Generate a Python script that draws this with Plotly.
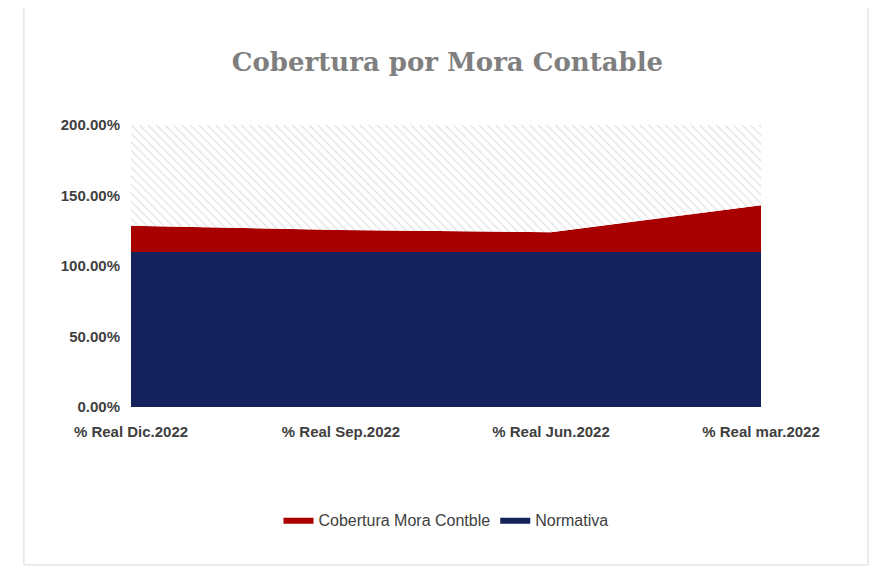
import plotly.graph_objects as go

categorias = ["% Real Dic.2022", "% Real Sep.2022", "% Real Jun.2022", "% Real mar.2022"]
normativa = [110, 110, 110, 110]
cobertura = [128.5, 125.5, 124, 143]
tope = [200, 200, 200, 200]
x = list(range(len(categorias)))

fig = go.Figure()
fig.add_trace(go.Scatter(x=x, y=normativa, name="Normativa", mode="lines",
                         line=dict(width=0), fill="tozeroy", fillcolor="#14215a"))
fig.add_trace(go.Scatter(x=x, y=cobertura, name="Cobertura Mora Contble", mode="lines",
                         line=dict(width=0), fill="tonexty", fillcolor="#a80000"))
fig.add_trace(go.Scatter(x=x, y=tope, name="", mode="lines", showlegend=False,
                         line=dict(width=0), fill="tonexty", fillcolor="rgba(255,255,255,0)",
                         fillpattern=dict(shape="\\", fgcolor="#b8b8b8", bgcolor="white",
                                          size=6, solidity=0.18),
                         hoverinfo="skip"))

tick_font = dict(family="Liberation Sans", size=15, color="#404040")
fig.update_layout(
    width=879, height=566,
    margin=dict(l=123, r=126, t=117, b=167),
    paper_bgcolor="white", plot_bgcolor="white",
    title=dict(text="<b>Cobertura por Mora Contable</b>", x=0.5, xanchor="center",
               y=0.905, yanchor="middle",
               font=dict(family="DejaVu Serif", size=26, color="#7f7f7f")),
    xaxis=dict(tickvals=x, ticktext=["<b>%s</b>" % c for c in categorias], range=[0, 3],
               showgrid=True, gridcolor="#d9d9d9", zeroline=False, ticks="",
               ticklabelstandoff=14, tickfont=tick_font),
    yaxis=dict(range=[0, 200], tickvals=[0, 50, 100, 150, 200],
               ticktext=["<b>%.2f%%</b>" % v for v in [0, 50, 100, 150, 200]],
               showgrid=True, gridcolor="#d9d9d9", zeroline=False, ticks="",
               ticklabelstandoff=10, tickfont=tick_font, layer="above traces"),
    legend=dict(orientation="h", x=0.5, xanchor="center", y=-0.4, yanchor="middle",
                traceorder="reversed",
                font=dict(family="Liberation Sans", size=16, color="#404040")),
    shapes=[dict(type="path", xref="paper", yref="paper", layer="above",
                 path="M -0.17,1.42 L 1.17,1.42 L 1.17,-0.56 L -0.17,-0.56 Z",
                 line=dict(color="#d9d9d9", width=1))],
)
fig.write_html("out.html")
